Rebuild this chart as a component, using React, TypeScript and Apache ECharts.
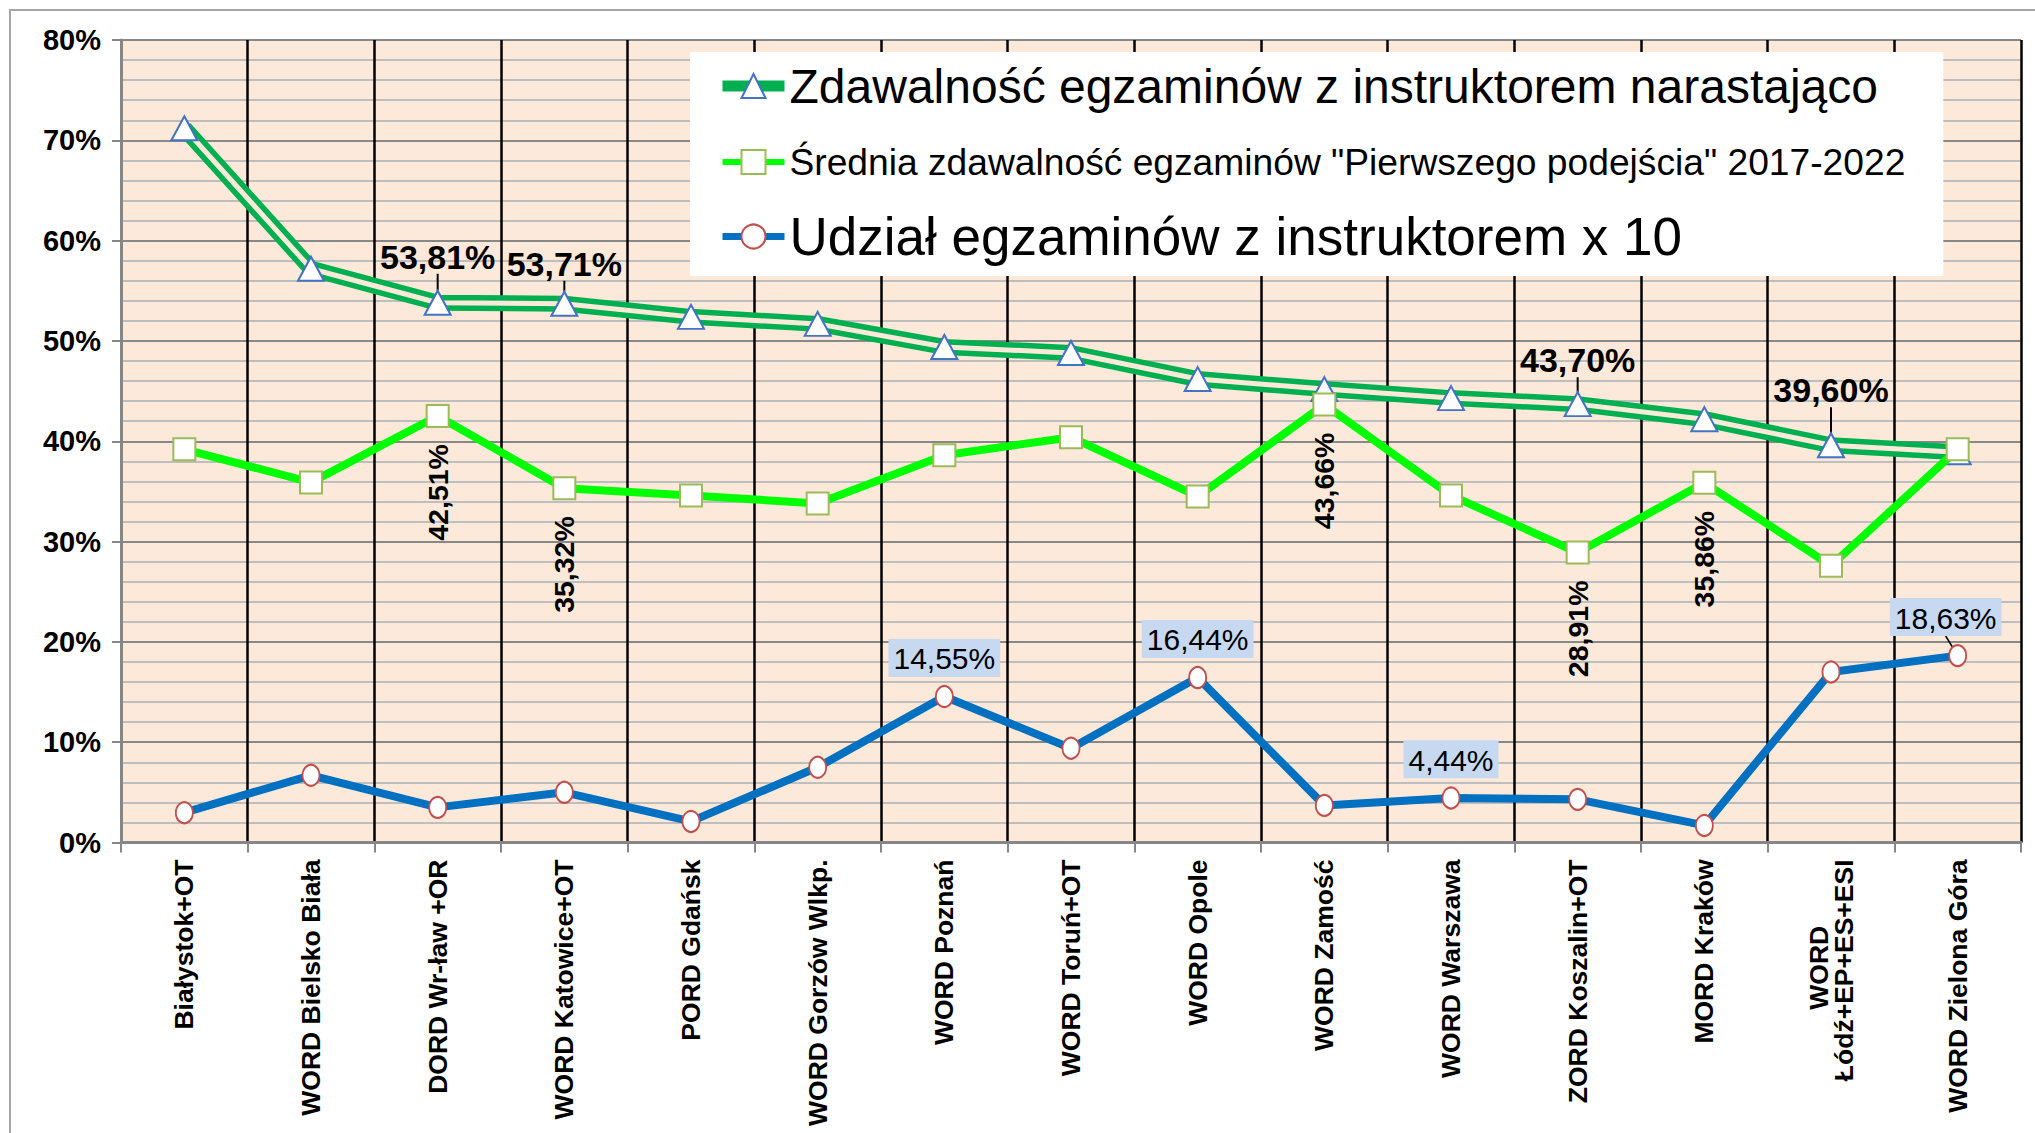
import React, { useEffect, useRef } from 'react';
import * as echarts from 'echarts';

const categories = [
  'Białystok+OT',
  'WORD Bielsko Biała',
  'DORD Wr-ław +OR',
  'WORD Katowice+OT',
  'PORD Gdańsk',
  'WORD Gorzów Wlkp.',
  'WORD Poznań',
  'WORD Toruń+OT',
  'WORD Opole',
  'WORD Zamość',
  'WORD Warszawa',
  'ZORD Koszalin+OT',
  'MORD Kraków',
  'WORD\u00A0\u00A0\u00A0\u00A0\u00A0\u00A0\u00A0\u00A0\u00A0\nŁódź+EP+ES+ESI',
  'WORD Zielona Góra',
];

const seriesNames = [
  'Zdawalność egzaminów z instruktorem narastająco',
  'Średnia zdawalność egzaminów "Pierwszego podejścia" 2017-2022',
  'Udział egzaminów z instruktorem x 10',
];

// values in %
const passRateCumulative = [71.2, 57.2, 53.81, 53.71, 52.4, 51.7, 49.4, 48.8, 46.2, 45.2, 44.3, 43.7, 42.2, 39.6, 38.9];
const firstAttemptAvg = [39.2, 35.9, 42.51, 35.32, 34.6, 33.8, 38.6, 40.4, 34.5, 43.66, 34.6, 28.91, 35.86, 27.6, 39.2];
const instructorShareX10 = [2.97, 6.7, 3.5, 5.0, 2.1, 7.5, 14.55, 9.4, 16.44, 3.7, 4.44, 4.3, 1.7, 17.0, 18.63];

const passLabeled = [2, 3, 11, 13];
const avgLabeled = [2, 3, 9, 11, 12];
const shareLabeled = [6, 8, 10, 14];

const yMin = 0;
const yMax = 80;
const yStep = 10;

const FONT = '"Liberation Sans", Arial, Helvetica, sans-serif';
const BG = '#FDE9D9';

const fmt = (v: number) => v.toFixed(2).replace('.', ',') + '%';

// label offsets (layout only)
const passLabelDy: Record<number, number> = { 2: -11, 3: -5, 11: -9, 13: -20 };
const shareLabelDx: Record<number, number> = { 14: -12 };

export default function App() {
  const ref = useRef<HTMLDivElement>(null);

  useEffect(() => {
    if (!ref.current) return;
    const chart = echarts.init(ref.current, undefined, { renderer: 'svg' });

    const passData = passRateCumulative.map((v, i) =>
      passLabeled.includes(i)
        ? { value: v, label: { show: true }, labelLine: { show: true } }
        : v
    );
    const avgData = firstAttemptAvg.map((v, i) =>
      avgLabeled.includes(i) ? { value: v, label: { show: true } } : v
    );
    const shareData = instructorShareX10.map((v, i) =>
      shareLabeled.includes(i)
        ? { value: v, label: { show: true }, labelLine: { show: i in shareLabelDx } }
        : v
    );

    const option: any = {
      animation: false,
      backgroundColor: '#fff',
      textStyle: { fontFamily: FONT },
      grid: {
        left: 121,
        right: 14,
        top: 40,
        bottom: 290.5,
        show: true,
        backgroundColor: BG,
        borderWidth: 0,
      },
      legend: {
        orient: 'vertical',
        left: 690,
        top: 52,
        backgroundColor: '#fff',
        padding: [6, 38, 13, 27],
        itemGap: 28,
        itemWidth: 62,
        itemHeight: 30,
        textStyle: { color: '#000', fontFamily: FONT },
        data: [
          { name: seriesNames[0], textStyle: { fontSize: 48, lineHeight: 56 }, lineStyle: { width: 11 } },
          { name: seriesNames[1], textStyle: { fontSize: 37.2, lineHeight: 40 }, lineStyle: { width: 6 } },
          { name: seriesNames[2], textStyle: { fontSize: 53, lineHeight: 52 }, lineStyle: { width: 7 } },
        ],
      },
      xAxis: {
        type: 'category',
        data: categories,
        boundaryGap: true,
        axisLine: { show: true, lineStyle: { color: '#868686', width: 3 } },
        axisTick: { show: true, length: 10, lineStyle: { color: '#868686', width: 2 } },
        axisLabel: {
          rotate: 90,
          interval: 0,
          margin: 17,
          fontSize: 26.5,
          fontWeight: 'bold',
          color: '#000',
          fontFamily: FONT,
          lineHeight: 25,
        },
        splitLine: { show: true, showMinLine: false, lineStyle: { color: '#000', width: 2.5 } },
      },
      yAxis: {
        type: 'value',
        min: yMin,
        max: yMax,
        interval: yStep,
        axisLine: { show: true, lineStyle: { color: '#868686', width: 3 } },
        axisTick: { show: true, length: 9, lineStyle: { color: '#868686', width: 2 } },
        axisLabel: {
          formatter: '{value}%',
          fontSize: 29,
          fontWeight: 'bold',
          color: '#000',
          margin: 20,
          fontFamily: FONT,
        },
        splitLine: { show: true, lineStyle: { color: '#888888', width: 2 } },
        minorTick: { show: false, splitNumber: 5 },
        minorSplitLine: { show: true, lineStyle: { color: '#BEBEBE', width: 2 } },
      },
      graphic: [
        {
          type: 'rect',
          shape: { x: 10, y: 10, width: 2200, height: 1300 },
          style: { fill: 'none', stroke: '#A6A6A6', lineWidth: 2 },
          silent: true,
        },
      ],
      series: [
        {
          name: seriesNames[0],
          type: 'line',
          data: passRateCumulative,
          symbol: 'triangle',
          symbolSize: [26, 24],
          showSymbol: false,
          lineStyle: { color: '#00B050', width: 16 },
          itemStyle: { color: '#fff', borderColor: '#4472C4', borderWidth: 2 },
          emphasis: { disabled: true },
          z: 2,
        },
        {
          name: 'gap',
          type: 'line',
          data: passData,
          symbol: 'triangle',
          symbolSize: [26, 24],
          showSymbol: true,
          lineStyle: { color: BG, width: 5 },
          itemStyle: { color: '#fff', borderColor: '#4472C4', borderWidth: 2 },
          label: {
            show: false,
            position: 'top',
            distance: 5,
            fontSize: 34,
            fontWeight: 'bold',
            color: '#000',
            fontFamily: FONT,
            formatter: (p: any) => fmt(p.value),
          },
          labelLine: { show: false, lineStyle: { color: '#000', width: 2 } },
          labelLayout: (p: any) => (p.dataIndex in passLabelDy ? { dy: passLabelDy[p.dataIndex] } : {}),
          emphasis: { disabled: true },
          z: 3,
        },
        {
          name: seriesNames[1],
          type: 'line',
          data: avgData,
          symbol: 'rect',
          symbolSize: 22,
          lineStyle: { color: '#00FF00', width: 8 },
          itemStyle: { color: '#fff', borderColor: '#9BBB59', borderWidth: 2 },
          label: {
            show: false,
            position: 'bottom',
            distance: 16,
            rotate: 90,
            align: 'right',
            verticalAlign: 'middle',
            fontSize: 28.5,
            fontWeight: 'bold',
            color: '#000',
            fontFamily: FONT,
            formatter: (p: any) => fmt(p.value),
          },
          emphasis: { disabled: true },
          z: 4,
        },
        {
          name: seriesNames[2],
          type: 'line',
          data: shareData,
          symbol: 'circle',
          symbolSize: [17, 21],
          lineStyle: { color: '#0070C0', width: 8 },
          itemStyle: { color: '#fff', borderColor: '#C0504D', borderWidth: 2 },
          label: {
            show: false,
            position: 'top',
            distance: 8,
            fontSize: 30,
            color: '#000',
            fontFamily: FONT,
            backgroundColor: '#C6D9F1',
            padding: [5, 5, 3, 5],
            formatter: (p: any) => fmt(p.value),
          },
          labelLine: { show: false, lineStyle: { color: '#000', width: 1.5 } },
          labelLayout: (p: any) => (p.dataIndex in shareLabelDx ? { dx: shareLabelDx[p.dataIndex] } : {}),
          emphasis: { disabled: true },
          z: 5,
        },
      ],
    };

    chart.setOption(option);
    return () => chart.dispose();
  }, []);

  return (
    <div
      ref={ref}
      style={{ position: 'fixed', left: 0, top: 0, width: 2035, height: 1133 }}
    />
  );
}
